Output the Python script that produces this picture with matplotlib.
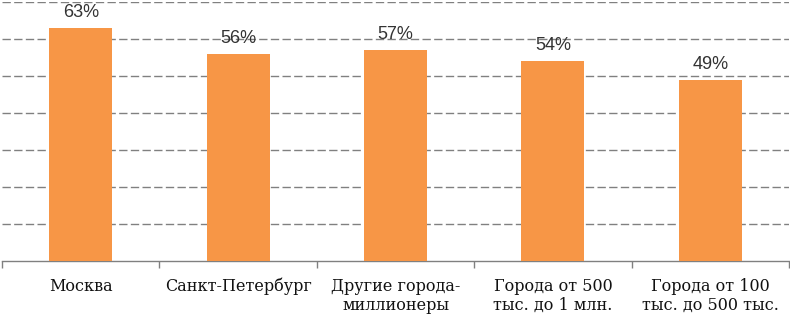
import matplotlib
matplotlib.use("Agg")
import matplotlib.pyplot as plt
import numpy as np

categories = ["Москва", "Санкт-Петербург", "Другие города-\nмиллионеры",
              "Города от 500\nтыс. до 1 млн.", "Города от 100\nтыс. до 500 тыс."]
values = [63, 56, 57, 54, 49]
value_labels = ["63%", "56%", "57%", "54%", "49%"]

fig = plt.figure(figsize=(7.9, 3.17), dpi=100)
ax = fig.add_axes([2/790, (317-261)/317, 787/790, 259/317])

x = np.arange(len(categories))
bars = ax.bar(x, values, width=0.4, color="#F79646", zorder=3)

ax.set_xlim(-0.5, len(categories) - 0.5)
ax.set_ylim(0, 70)
ax.set_yticks(np.arange(10, 71, 10))
ax.yaxis.grid(True, color="#808080", linestyle=(0, (6, 2.4)), linewidth=1.0, zorder=0)
ax.tick_params(axis="y", left=False, labelleft=False)

for s in ["top", "right", "left"]:
    ax.spines[s].set_visible(False)
ax.spines["bottom"].set_color("#808080")
ax.spines["bottom"].set_linewidth(1.0)

ax.set_xticks(x)
ax.set_xticklabels(categories, fontfamily="DejaVu Serif", fontsize=11.5,
                   color="#111111", linespacing=1.2)
ax.tick_params(axis="x", which="major", length=0, pad=12)
ax.set_xticks(np.arange(-0.5, len(categories), 1.0), minor=True)
ax.tick_params(axis="x", which="minor", length=5, color="#808080", width=1.0)
for lbl in ax.get_xticklabels():
    lbl.set_verticalalignment("top")

for xi, v, t in zip(x, values, value_labels):
    ax.annotate(t, (xi, v), xytext=(0, 5), textcoords="offset points",
                ha="center", va="bottom", fontsize=13, color="#333333",
                fontfamily="Liberation Sans", clip_on=False)

fig.savefig("out.png", dpi=100)
